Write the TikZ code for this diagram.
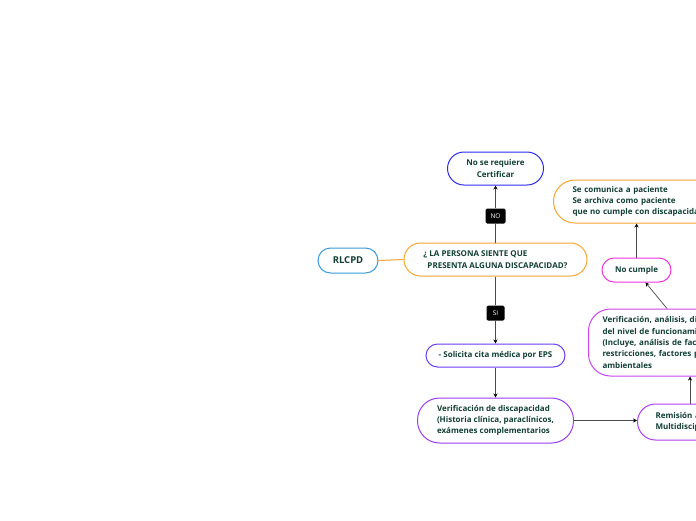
\documentclass[tikz,border=0pt]{standalone}
\usepackage{fontspec}
\setmainfont{Open Sans}
\usetikzlibrary{arrows.meta,calc}
\definecolor{txt}{HTML}{123F35}
\definecolor{cblue}{HTML}{3A9AD9}
\definecolor{corange}{HTML}{F7A530}
\definecolor{cdblue}{HTML}{2B2BF0}
\definecolor{cviol}{HTML}{6A3CF5}
\definecolor{cpurp}{HTML}{9A3CF5}
\definecolor{cpurp2}{HTML}{B03CF5}
\definecolor{cmag}{HTML}{CC44EE}
\definecolor{cpink}{HTML}{EE33DD}
\definecolor{cline}{HTML}{4A4A4A}
\tikzset{
  box/.style={draw,line width=1pt,fill=white,text=txt,font=\bfseries\fontsize{8}{11.3}\selectfont,inner sep=0pt},
  lbl/.style={fill=black,text=white,rounded corners=1.5pt,font=\fontsize{6.5}{7}\selectfont,inner sep=0pt,minimum height=15pt},
  conn/.style={draw=cline,line width=0.7pt},
  arr/.style={conn,-{Stealth[length=4pt,width=4pt,black]}},
}
\begin{document}
\begin{tikzpicture}[x=1pt,y=-1pt]
\clip (0,0) rectangle (696,520);
\fill[white] (0,0) rectangle (696,520);
% nodes
\node[box,draw=cblue,rounded corners=12.5pt,minimum width=60pt,minimum height=25pt,font=\bfseries\fontsize{9.5}{10}\selectfont] (rl) at (348,260.5) {RLCPD};
\node[box,draw=corange,rounded corners=16.5pt,minimum width=183pt,minimum height=33pt,align=left] (q) at (495.5,259.5) {¿ LA PERSONA SIENTE QUE\\\hspace{4pt}PRESENTA ALGUNA DISCAPACIDAD?};
\node[box,draw=cdblue,rounded corners=16.5pt,minimum width=96pt,minimum height=33pt,align=center] (nr) at (495.5,168.5) {No se requiere\\Certificar};
\node[box,draw=cviol,rounded corners=11.5pt,minimum width=139pt,minimum height=23pt] (sol) at (495.5,355.5) {- Solicita cita médica por EPS};
\node[box,draw=cpurp,rounded corners=22pt,minimum width=156pt,minimum height=45pt,align=left] (ver) at (495.5,420.5) {Verificación de discapacidad\\(Historia clínica, paraclínicos,\\exámenes complementarios};
\node[box,draw=cpurp2,rounded corners=18pt,minimum height=36pt,anchor=west,align=left,text width=140pt,inner xsep=18pt] (rem) at (637,422) {Remisión a Equipo\\Multidisciplinario};
\node[box,draw=cmag,rounded corners=22pt,minimum height=67pt,anchor=west,align=left,text width=170pt,inner xsep=14pt] (ana) at (588,342.5) {Verificación, análisis, diagnóstico\\del nivel de funcionamiento\\(Incluye, análisis de factores de\\restricciones, factores personales y\\ambientales};
\node[box,draw=cpink,rounded corners=12pt,minimum width=69pt,minimum height=24pt] (nc) at (636.5,270) {No cumple};
\node[box,draw=corange,rounded corners=21.5pt,minimum height=43pt,anchor=west,align=left,text width=170pt,inner xsep=19pt] (sc) at (553,201.5) {Se comunica a paciente\\Se archiva como paciente\\que no cumple con discapacidad};
% labels
\node[lbl,minimum width=20pt] (no) at (495.5,216) {NO};
\node[lbl,minimum width=18pt] (si) at (495.5,313) {SI};
% connectors
\draw[draw=corange,line width=1pt] (rl.east) -- (q.west);
\draw[conn] (q.north) -- (no.south);
\draw[arr] (no.north) -- (nr.south);
\draw[conn] (q.south) -- (si.north);
\draw[arr] (si.south) -- (sol.north);
\draw[arr] (sol.south) -- (ver.north);
\draw[arr] (ver.east) -- (ver.east -| rem.west);
\draw[arr] ([xshift=53pt]rem.north west) -- ([xshift=53pt]rem.north west |- ana.south);
\draw[arr] ([xshift=79pt]ana.north west) -- ([xshift=9pt]nc.south);
\draw[arr] (nc.north) -- (nc.north |- sc.south);
\end{tikzpicture}
\end{document}
